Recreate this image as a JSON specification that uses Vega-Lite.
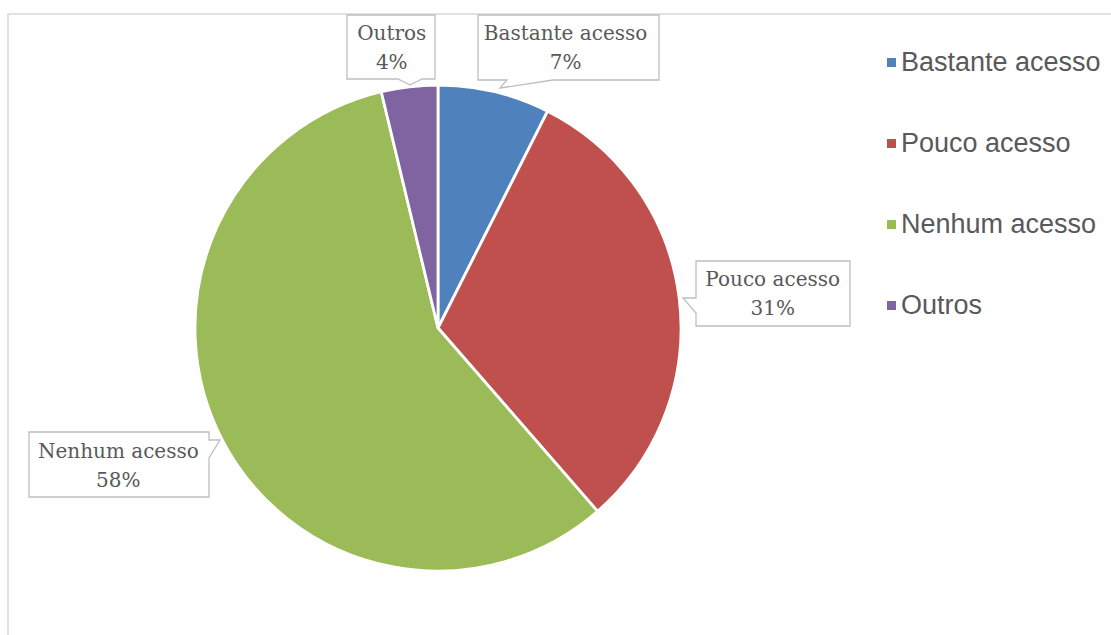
{
  "$schema": "https://vega.github.io/schema/vega-lite/v6.json",
  "autosize": {"type": "none"},
  "padding": {"left": 8, "top": 14, "right": -3, "bottom": -3},
  "width": 1106,
  "height": 624,
  "background": "white",
  "view": {"stroke": "#d9d9d9", "strokeWidth": 1.5},
  "config": {
    "view": {"stroke": "#d9d9d9", "strokeWidth": 1.5},
    "legend": {
      "orient": "none",
      "legendX": 870,
      "legendY": 35,
      "symbolType": "square",
      "symbolSize": 81,
      "symbolStrokeWidth": 0,
      "labelFont": "Liberation Sans",
      "labelFontSize": 27,
      "labelColor": "#595959",
      "labelOffset": -4,
      "labelLimit": 0,
      "rowPadding": 53,
      "padding": 0,
      "title": null
    }
  },
  "data": {
    "values": [
      {"category": "Bastante acesso", "value": 7.45, "ord": 1, "label": "Bastante acesso\n7%"},
      {"category": "Pouco acesso", "value": 31.15, "ord": 2, "label": "Pouco acesso\n31%"},
      {"category": "Nenhum acesso", "value": 57.65, "ord": 3, "label": "Nenhum acesso\n58%"},
      {"category": "Outros", "value": 3.75, "ord": 4, "label": "Outros\n4%"}
    ]
  },
  "layer": [
    {
      "mark": {"type": "arc", "x": 430, "y": 314, "outerRadius": 243, "stroke": "white", "strokeWidth": 2.8},
      "encoding": {
        "theta": {"field": "value", "type": "quantitative", "stack": true},
        "order": {"field": "ord", "type": "quantitative"},
        "color": {
          "field": "category",
          "type": "nominal",
          "sort": ["Bastante acesso", "Pouco acesso", "Nenhum acesso", "Outros"],
          "scale": {
            "domain": ["Bastante acesso", "Pouco acesso", "Nenhum acesso", "Outros"],
            "range": ["#4F81BD", "#C0504D", "#9BBB59", "#8064A2"]
          },
          "legend": {"title": null, "symbolType": "square"}
        }
      }
    },
    {
      "mark": {"type": "point", "x": 430, "y": 314, "size": 4, "filled": true, "fill": "white", "stroke": "#bfbfbf", "strokeWidth": 1.3, "opacity": 1},
      "encoding": {
        "shape": {
          "field": "label",
          "type": "nominal",
          "scale": {
            "domain": ["Bastante acesso\n7%", "Pouco acesso\n31%", "Nenhum acesso\n58%", "Outros\n4%"],
            "range": [
              "M40,-313 L221,-313 L221,-248 L115,-248 L62,-240 L69,-248 L40,-248 Z",
              "M258,-67 L412,-67 L412,-2 L258,-2 L258,-15 L245,-30 L258,-30 Z",
              "M-409,104 L-229,104 L-229,112 L-218,112 L-229,130 L-229,169 L-409,169 Z",
              "M-91,-313 L-3,-313 L-3,-249 L-16,-249 L-28,-243 L-40,-249 L-91,-249 Z"
            ]
          },
          "legend": null
        }
      }
    },
    {
      "mark": {
        "type": "text",
        "x": 430,
        "y": 314,
        "radius": 300,
        "font": "DejaVu Serif",
        "fontSize": 20,
        "lineHeight": 29,
        "lineBreak": "\n",
        "color": "#595959",
        "align": "center",
        "baseline": "middle",
        "dx": {"expr": "datum.category == 'Bastante acesso' ? 58 : datum.category == 'Pouco acesso' ? 37 : datum.category == 'Nenhum acesso' ? -53 : -11"},
        "dy": {"expr": "datum.category == 'Bastante acesso' ? -2.5 : datum.category == 'Pouco acesso' ? -10.5 : datum.category == 'Nenhum acesso' ? -13.5 : 3.5"}
      },
      "encoding": {
        "theta": {"field": "value", "type": "quantitative", "stack": true},
        "order": {"field": "ord", "type": "quantitative"},
        "text": {"field": "label", "type": "nominal"}
      }
    }
  ]
}
